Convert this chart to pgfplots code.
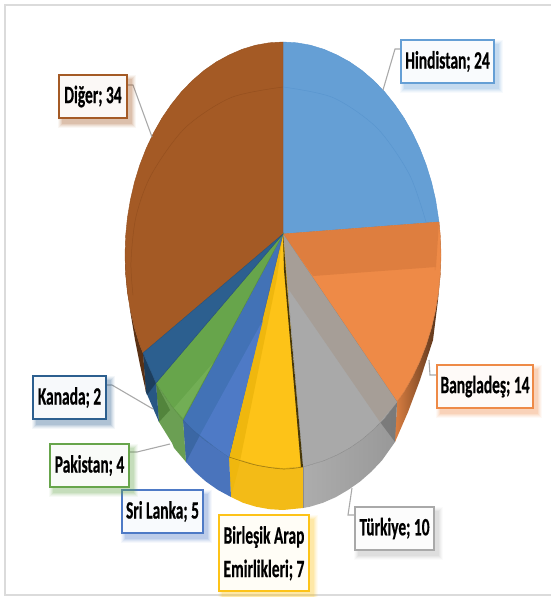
\documentclass[border=0pt]{standalone}
\usepackage{fontspec}
\setmainfont{Carlito}[BoldFeatures={FakeBold=0.6}]
\usepackage{pgfplots}
\pgfplotsset{compat=1.18}

\definecolor{hind}{HTML}{659FD5}
\definecolor{hindl}{HTML}{5A96CF}
\definecolor{bang}{HTML}{EE8A47}
\definecolor{bangb}{HTML}{DE7E3F}
\definecolor{turk}{HTML}{A9A9A9}
\definecolor{turkb}{HTML}{A69E97}
\definecolor{birl}{HTML}{FDC318}
\definecolor{birlb}{HTML}{EFB70E}
\definecolor{sril}{HTML}{4E7AC6}
\definecolor{srib}{HTML}{4272B6}
\definecolor{paki}{HTML}{67A54B}
\definecolor{pakl}{HTML}{72AE55}
\definecolor{kana}{HTML}{2C5F8F}
\definecolor{digr}{HTML}{A45A25}
\definecolor{digl}{HTML}{95501F}
\definecolor{leader}{HTML}{A9A9A9}

% soft shadow ring: x1, y1, x2, y2, colour, spread, opacity
\newcommand{\shad}[7]{\fill[#5,opacity=#7] (axis cs:#1+4-#6,#2+5-#6) rectangle (axis cs:#3+4+#6,#4+5+#6);}
% label box: x1, y1, x2, y2, colour
\newcommand{\lblbox}[5]{%
  \shad{#1}{#2}{#3}{#4}{#5}{5}{0.05}
  \shad{#1}{#2}{#3}{#4}{#5}{4}{0.07}
  \shad{#1}{#2}{#3}{#4}{#5}{3}{0.09}
  \shad{#1}{#2}{#3}{#4}{#5}{2}{0.11}
  \shad{#1}{#2}{#3}{#4}{#5}{1}{0.13}
  \draw[#5,line width=1.6pt,fill=white!96!#5] (axis cs:#1,#2) rectangle (axis cs:#3,#4);}
\newcommand{\lbl}[3]{\node[text=black] at (axis cs:#1,#2)
  {\scalebox{0.62}[1]{\fontsize{25}{29}\selectfont\bfseries #3}};}

\begin{document}
\begin{tikzpicture}
\begin{axis}[
    width=551bp, height=597bp, scale only axis,
    xmin=0, xmax=551, ymin=0, ymax=597,
    y dir=reverse, hide axis, clip=false, no markers,
]
% frame
\addplot[draw=black!14, line width=2pt] coordinates {(551,5) (5,5) (5,595) (551,595)};

% side walls
\addplot[draw=none, left color=black!8!bang, right color=black!68!bang] coordinates {
  (439,222) (441,265) (438,300) (433,340) (420,380) (408,412) (395,442) (397,402) (404,392) (412.4,377.2) (419.8,361.5) (426.2,345) (431.5,327.8) (435.6,310.1) (438.6,292) (440.4,273.6) (441,255)} -- cycle;
\addplot[draw=none, left color=turk!96!white, right color=turk!90!black] coordinates {
  (397,402) (395,442) (382,460.4) (371.3,471.7) (360,481.6) (348,490) (335.7,497.2) (322.9,502.8) (309.7,506.8) (303,508) (303,467) (310.4,464.8) (323.9,460.7) (337,455) (349.8,448) (362,439.5) (373.6,429.5) (384.6,418.2)} -- cycle;
\addplot[fill=black!45!turk, draw=none, fill opacity=0.5] coordinates {(397,402) (380,422) (395,442)} -- cycle;
\addplot[fill=birl!96!black, draw=none] coordinates {
  (303,467) (303,508) (283,510) (269.6,509.2) (256.3,506.8) (243.1,502.8) (231,497) (229,457) (242.1,460.7) (255.6,464.8) (269.2,467.2) (283,468)} -- cycle;
\addplot[fill=birlb, draw=none] coordinates {(229,457) (240,462) (231,497)} -- cycle;
\addplot[fill=sril!95!black, draw=none] coordinates {
  (229,457) (231,497) (218,490) (206,481.6) (194.7,471.7) (186,462) (183,420) (192.4,429.5) (204,439.5) (216.2,448)} -- cycle;
\addplot[fill=srib!90!black, draw=none] coordinates {(183,420) (200,435) (186,462)} -- cycle;
\addplot[fill=paki!85!gray, draw=none] coordinates {
  (183,420) (186,462) (174,447.9) (172,443) (159,422) (156,383) (162,392) (171.3,405.6)} -- cycle;
\addplot[fill=paki!80!black, draw=none] coordinates {(156,383) (170,410) (159,422)} -- cycle;
\addplot[fill=kana!92!black, draw=none] coordinates {(143,353) (156,383) (159,422) (146,392)} -- cycle;
\addplot[fill=kana!65!black, draw=none] coordinates {(143,353) (156,383) (147,395) (146,392)} -- cycle;
\addplot[fill=digr!55!black, draw=none] coordinates {
  (143,353) (146,392) (140,365) (135,340) (130,310) (127,280) (125,255) (125.6,273.6) (127.4,292) (130.4,310.1) (134.5,327.8) (139.8,345)} -- cycle;

% top faces
\addplot[fill=hind, draw=hindl, line width=0.4pt] coordinates {
  (283,234) (283,42) (296.8,42.8) (310.4,45.2) (323.9,49.3) (337,55) (349.8,62) (362,70.5) (373.6,80.5) (384.6,91.8) (394.7,104.4) (404,118) (412.4,132.8) (419.8,148.5) (426.2,165) (431.5,182.2) (435.6,199.9) (439,222)} -- cycle;
\addplot[fill=digr, draw=digl, line width=0.4pt] coordinates {
  (283,234) (143,353) (139.8,345) (134.5,327.8) (130.4,310.1) (127.4,292) (125.6,273.6) (125,255) (125.6,236.4) (127.4,218) (130.4,199.9) (134.5,182.2) (139.8,165) (146.2,148.5) (153.6,132.8) (162,118) (171.3,104.4) (181.4,91.8) (192.4,80.5) (204,70.5) (216.2,62) (229,55) (242.1,49.3) (255.6,45.2) (269.2,42.8) (283,42)} -- cycle;
\addplot[fill=bang, draw=bang!85!black, line width=0.4pt] coordinates {
  (283,234) (439,222) (440.4,236.4) (441,255) (440.4,273.6) (438.6,292) (435.6,310.1) (431.5,327.8) (426.2,345) (419.8,361.5) (412.4,377.2) (404,392) (397,402)} -- cycle;
\addplot[fill=bangb, draw=none] coordinates {(283,234) (439,222) (436,267) (313,276)} -- cycle;
\addplot[fill=turk, draw=turk!80!black, line width=0.4pt] coordinates {
  (283,234) (397,402) (384.6,418.2) (373.6,429.5) (362,439.5) (349.8,448) (337,455) (323.9,460.7) (310.4,464.8) (303,467)} -- cycle;
\addplot[fill=turkb, draw=none] coordinates {(283,234) (397,402) (380,422) (287,287)} -- cycle;
\addplot[fill=birl, draw=birlb!85!black, line width=0.4pt] coordinates {
  (283,234) (301,467) (283,468.5) (269.2,467.2) (255.6,464.8) (242.1,460.7) (229,457)} -- cycle;
\addplot[fill=birlb, draw=none] coordinates {(283,234) (229,457) (240,461) (277,278)} -- cycle;
\addplot[fill=black!72!birl, draw=none] coordinates {(283,234) (287,287) (303,467) (301,467) (284,270)} -- cycle;
\addplot[fill=srib, draw=srib!85!black, line width=0.4pt] coordinates {
  (283,234) (229,457) (216.2,448) (204,439.5) (192.4,429.5) (183,420)} -- cycle;
\addplot[fill=sril, draw=none] coordinates {(263,320) (229,457) (216.2,448) (200,435)} -- cycle;
\addplot[fill=paki, draw=paki!85!black, line width=0.4pt] coordinates {
  (283,234) (183,420) (171.3,405.6) (162,392) (156,383)} -- cycle;
\addplot[fill=pakl, draw=none] coordinates {(213,363) (183,418) (174,408)} -- cycle;
\addplot[fill=kana, draw=kana!85!black, line width=0.4pt] coordinates {(283,234) (156,383) (143,353)} -- cycle;

% rim lines of the bevel
\addplot[draw=hindl, line width=0.5pt, smooth] coordinates {(283,87) (333,97.6) (377,128) (409.4,174.5) (426,222)};
\addplot[draw=digl, line width=0.5pt, smooth] coordinates {(283,87) (231,97.6) (185,128) (151.4,174.5) (136,216.7) (131,262) (133,295)};
\addplot[draw=bangb, line width=0.5pt] coordinates {(436,222) (435,270)};
\addplot[draw=black!40!birl, line width=0.5pt, smooth] coordinates {(229,457) (255.6,465) (283,469) (303,467)};
\addplot[draw=black!45, line width=0.5pt] coordinates {(303,467) (303,508)};

% leader lines
\addplot[draw=leader, line width=1.1pt] coordinates {(383,90) (395,49) (401,49)};
\addplot[draw=leader, line width=1.1pt] coordinates {(152,137) (133,85) (127,85)};
\addplot[draw=leader, line width=1.1pt] coordinates {(429,360) (430,375) (437,375)};
\addplot[draw=leader, line width=1.1pt] coordinates {(352,488) (348,515) (355,515)};
\addplot[draw=leader, line width=1.1pt] coordinates {(170,444) (137,452) (129,452)};
\addplot[draw=leader, line width=1.1pt] coordinates {(153,409) (112,385) (106,385)};

% labels
\lblbox{401}{40}{494}{83}{hind}
\lbl{447.5}{61.5}{Hindistan; 24}
\lblbox{437}{365}{533}{408}{bang}
\lbl{485}{386.5}{Bangladeş; 14}
\lblbox{355}{507}{434}{550}{turk}
\lbl{394.5}{528.5}{Türkiye; 10}
\lblbox{219}{515}{309}{591}{birl}
\lbl{264}{537}{Birleşik Arap}
\lbl{264}{570}{Emirlikleri; 7}
\lblbox{122}{490}{203}{533}{sril}
\lbl{162.5}{511.5}{Sri Lanka; 5}
\lblbox{50}{444}{129}{487}{paki}
\lbl{89.5}{465.5}{Pakistan; 4}
\lblbox{33}{376}{106}{419}{kana}
\lbl{69.5}{397.5}{Kanada; 2}
\lblbox{59}{75}{127}{118}{digr}
\lbl{93}{96.5}{Diğer; 34}
\end{axis}
\pgfresetboundingbox
\path[use as bounding box] (0,0) rectangle (551bp,597bp);
\end{tikzpicture}
\end{document}
